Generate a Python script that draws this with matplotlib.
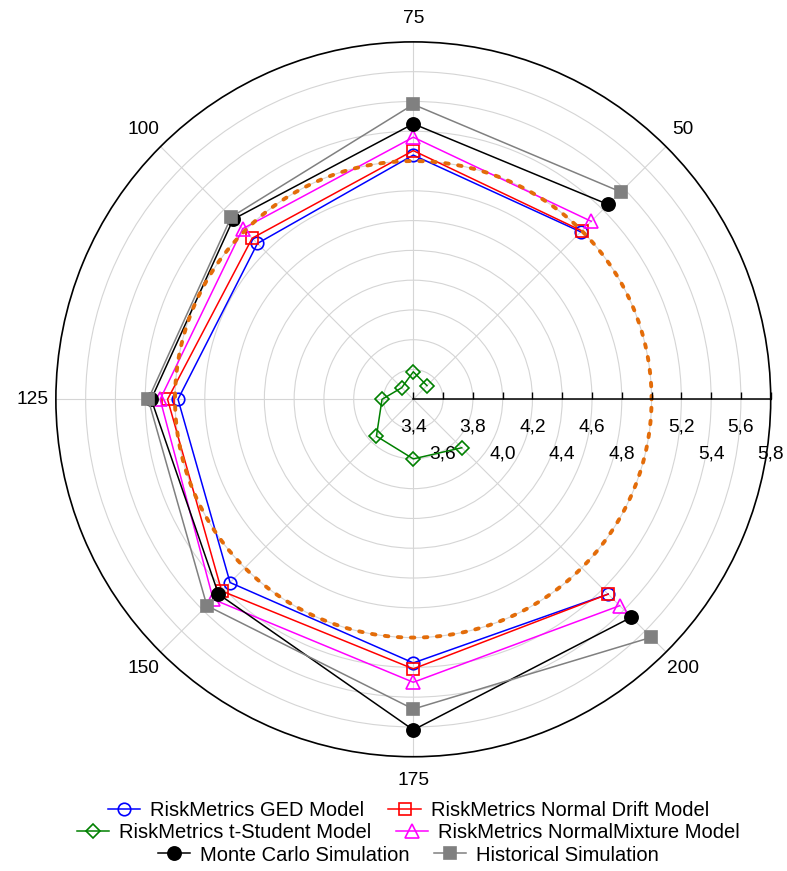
import numpy as np
import matplotlib
matplotlib.use("Agg")
import matplotlib.pyplot as plt

plt.rcParams['font.family'] = ['Liberation Sans', 'DejaVu Sans']

# ---- data ----
categories = [50, 75, 100, 125, 150, 175, 200]
ged = [4.99, 5.04, 4.88, 4.98, 5.14, 5.17, 5.25]
normal_drift = [5.00, 5.07, 4.93, 5.05, 5.22, 5.21, 5.25]
t_student = [3.53, 3.585, 3.51, 3.61, 3.75, 3.80, 3.86]
normal_mixture = [5.09, 5.16, 5.02, 5.10, 5.30, 5.30, 5.36]
monte_carlo = [5.25, 5.25, 5.11, 5.16, 5.25, 5.62, 5.47]
historical = [5.37, 5.38, 5.13, 5.18, 5.36, 5.48, 5.66]
threshold = 5.0

series_labels = ["RiskMetrics GED Model", "RiskMetrics Normal Drift Model",
                 "RiskMetrics t-Student Model", "RiskMetrics NormalMixture Model",
                 "Monte Carlo Simulation", "Historical Simulation"]

radial_ticks = [3.4, 3.6, 3.8, 4.0, 4.2, 4.4, 4.6, 4.8, 5.0, 5.2, 5.4, 5.6, 5.8]
radial_labels = ['3,4', '3,6', '3,8', '4,0', '4,2', '4,4', '4,6', '4,8', '',
                 '5,2', '5,4', '5,6', '5,8']
radial_rows = [0, 1, 0, 1, 0, 1, 0, 1, 0, 0, 1, 0, 1]

angle_labels = ['', '50', '75', '100', '125', '150', '175', '200']
angle_values = [25, 50, 75, 100, 125, 150, 175, 200]


def to_theta(x):
    return np.deg2rad(90 + (np.asarray(x, dtype=float) - 75) * 1.8)


fig = plt.figure(figsize=(7.87, 8.71), dpi=100)
ax = fig.add_axes([0.0710, 0.1312, 0.9083, 0.8207], projection='polar')

ax.set_ylim(3.4, 5.8)
ax.set_rticks(radial_ticks[1:-1])
ax.set_yticklabels([])
ax.tick_params(axis='y', length=0)
ax.set_thetagrids(np.rad2deg(to_theta(angle_values)), angle_labels, fontsize=13.8)
ax.tick_params(axis='x', direction='in', length=3.6, width=0.8, pad=10)
ax.grid(True, color='#D5D5D5', lw=0.8)
ax.spines['polar'].set_linewidth(1.2)
ax.spines['polar'].set_color('black')

th = to_theta(categories)
styles = [
    (ged, dict(color='#0000FF', marker='o', mfc='none', ms=9)),
    (normal_drift, dict(color='#FF0000', marker='s', mfc='none', ms=9)),
    (t_student, dict(color='#008000', marker='D', mfc='none', ms=7)),
    (normal_mixture, dict(color='#FF00FF', marker='^', mfc='none', ms=9.5)),
    (monte_carlo, dict(color='#000000', marker='o', ms=9.5)),
    (historical, dict(color='#808080', marker='s', ms=9)),
]
handles = []
for i, (vals, st) in enumerate(styles):
    ln, = ax.plot(th, vals, lw=1.1, mew=1.2, label=series_labels[i],
                  zorder=3 + i * 0.1, clip_on=False, **st)
    handles.append(ln)

# threshold circle
tt = np.linspace(0, 2 * np.pi, 500)
ax.plot(tt, np.full_like(tt, threshold), color='#E36C09', lw=2.8,
        linestyle=(0, (0.9, 2.45)), dash_capstyle='round', zorder=4)

# radial axis drawn along theta = 0
ax.plot([0, 0], [radial_ticks[0], radial_ticks[-1]], color='black', lw=1.1,
        zorder=5, clip_on=False)
ax.plot(np.zeros(len(radial_ticks)), radial_ticks, linestyle='none', marker=2,
        ms=5, mew=1.0, color='black', zorder=5, clip_on=False)
for r, lab, row in zip(radial_ticks, radial_labels, radial_rows):
    if lab:
        ax.annotate(lab, xy=(0, r), xytext=(0, -19.7 if row == 0 else -39.4),
                    textcoords='offset points', ha='center', va='center',
                    fontsize=13.8, annotation_clip=False)

# legend: three centred rows
row_y = [1 - 810.7 / 871, 1 - 832.7 / 871, 1 - 855.0 / 871]
for k in range(3):
    fig.legend(handles[2 * k:2 * k + 2], series_labels[2 * k:2 * k + 2], ncol=2,
               loc='center', bbox_to_anchor=(0.519, row_y[k]), frameon=False,
               fontsize=14.5, handlelength=1.6, handletextpad=0.5,
               columnspacing=1.2, borderpad=0, borderaxespad=0)

fig.savefig('out.png', dpi=100, facecolor='white')
